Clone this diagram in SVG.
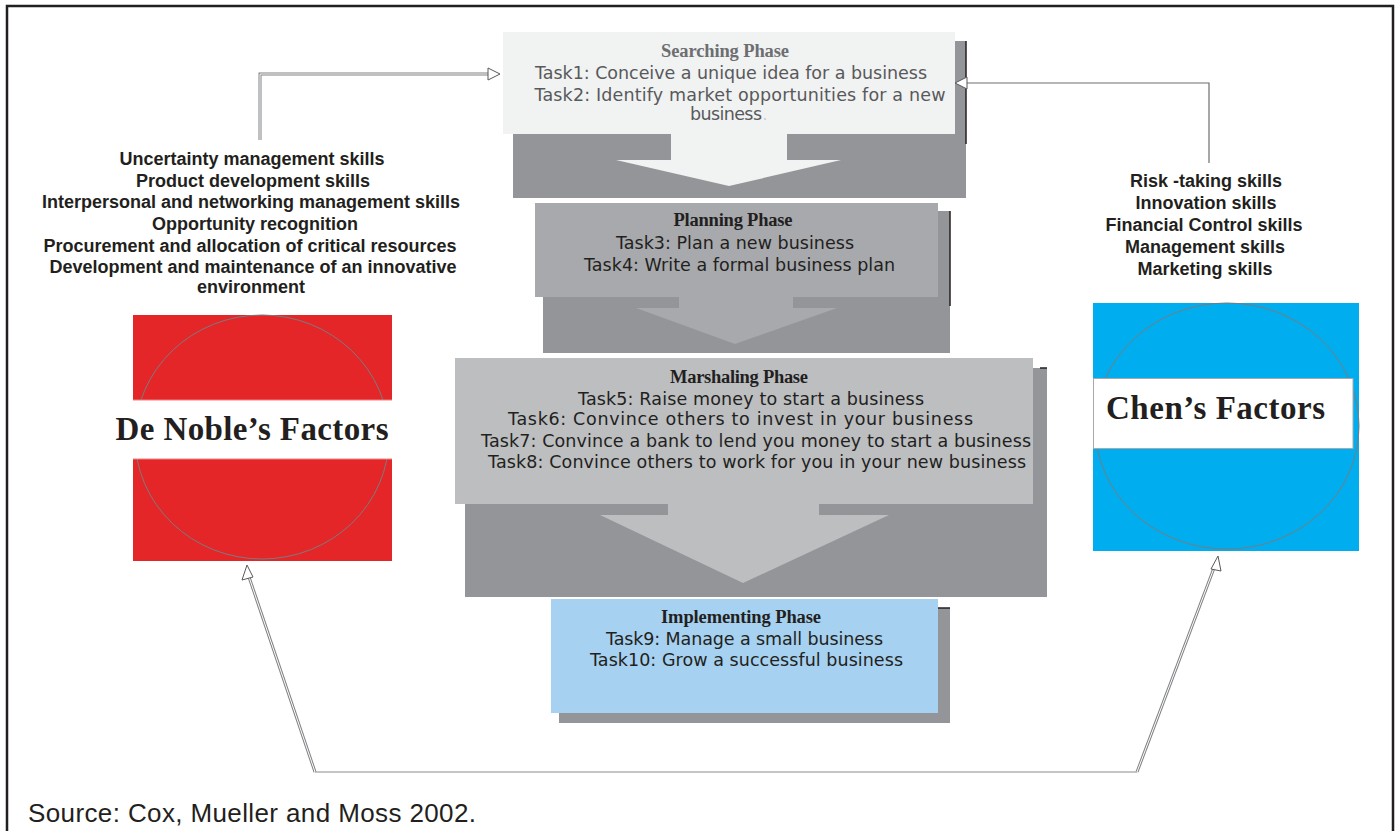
<svg xmlns="http://www.w3.org/2000/svg" width="1400" height="831" viewBox="0 0 1400 831">
<defs>
<style>
.title{font-family:"Liberation Serif","Times New Roman",serif;font-weight:bold;font-size:18.5px;text-anchor:middle;fill:#231f20}
.task{font-family:"DejaVu Sans","Open Sans",sans-serif;font-size:17.5px;text-anchor:middle;fill:#231f20}
.skill{font-family:"Liberation Sans",Arial,sans-serif;font-weight:bold;font-size:18px;text-anchor:middle;fill:#231f20}
.factor{font-family:"Liberation Serif","Times New Roman",serif;font-weight:bold;font-size:33px;fill:#231f20}
.shadow{fill:#939598}
.ring{fill:none;stroke:#7a7b7e;stroke-width:1}
.outer{fill:none;stroke:#808285;stroke-width:3}
.inner{fill:none;stroke:#ffffff;stroke-width:1}
.thin{fill:none;stroke:#6d6e71;stroke-width:1.2}
.head{fill:#ffffff;stroke:#58595b;stroke-width:1}
</style>
</defs>
<rect width="1400" height="831" fill="#ffffff"/>
<path d="M7,831 V6 H1393 V831" fill="none" stroke="#231f20" stroke-width="2.5"/>

<g id="searching">
  <rect class="shadow" x="513" y="41" width="453" height="157"/>
  <line x1="966" y1="41" x2="966" y2="144" stroke="#231f20" stroke-width="1.5"/>
  <rect x="503" y="32" width="452" height="102" fill="#f1f2f2"/>
  <polygon points="671,134 787,134 787,160 841,160 729,186 616,160 671,160" fill="#f1f2f2"/>
  <text class="title" x="725" y="57" textLength="128" style="fill:#6d6e71">Searching Phase</text>
  <text class="task" x="731" y="79" textLength="392" style="fill:#58595b">Task1: Conceive a unique idea for a business</text>
  <text class="task" x="740" y="101" textLength="411" style="fill:#58595b">Task2: Identify market opportunities for a new</text>
  <text class="task" x="726" y="120" textLength="72" style="fill:#58595b">business</text>
  <circle cx="765" cy="119" r="1" fill="#c8c9cb"/>
</g>

<g id="planning">
  <rect class="shadow" x="543" y="211" width="407" height="142"/>
  <line x1="950" y1="211" x2="950" y2="306" stroke="#231f20" stroke-width="1.5"/>
  <rect x="535" y="203" width="403" height="94" fill="#a7a9ac"/>
  <polygon points="679,297 793,297 793,308 837,308 735,344 636,308 679,308" fill="#a7a9ac"/>
  <text class="title" x="733" y="226" textLength="119">Planning Phase</text>
  <text class="task" x="735" y="249" textLength="238">Task3: Plan a new business</text>
  <text class="task" x="739.5" y="271" textLength="311">Task4: Write a formal business plan</text>
</g>

<g id="marshaling">
  <rect class="shadow" x="465" y="368" width="582" height="229"/>
  <line x1="1040" y1="368" x2="1047" y2="368" stroke="#231f20" stroke-width="1.5"/>
  <rect x="455" y="358" width="578" height="146" fill="#bcbec0"/>
  <polygon points="668,504 819,504 819,515 889,515 743,583 600,515 668,515" fill="#bcbec0"/>
  <text class="title" x="739" y="383" textLength="138">Marshaling Phase</text>
  <text class="task" x="751" y="405" textLength="346">Task5: Raise money to start a business</text>
  <text class="task" x="740.5" y="425" textLength="465">Task6: Convince others to invest in your business</text>
  <text class="task" x="756" y="447" textLength="550">Task7: Convince a bank to lend you money to start a business</text>
  <text class="task" x="757" y="468" textLength="538">Task8: Convince others to work for you in your new business</text>
</g>

<g id="implementing">
  <rect class="shadow" x="559" y="608" width="391" height="115"/>
  <line x1="938" y1="608" x2="950" y2="608" stroke="#231f20" stroke-width="1.5"/>
  <rect x="551" y="599" width="387" height="114" fill="#a6d1f0"/>
  <text class="title" x="741" y="623" textLength="160">Implementing Phase</text>
  <text class="task" x="744.5" y="645" textLength="277">Task9: Manage a small business</text>
  <text class="task" x="746.5" y="666" textLength="313">Task10: Grow a successful business</text>
</g>

<g id="denoble-skills">
  <text class="skill" x="252" y="165">Uncertainty management skills</text>
  <text class="skill" x="253" y="187">Product development skills</text>
  <text class="skill" x="251" y="208">Interpersonal and networking management skills</text>
  <text class="skill" x="255" y="230">Opportunity recognition</text>
  <text class="skill" x="250" y="252">Procurement and allocation of critical resources</text>
  <text class="skill" x="253" y="273">Development and maintenance of an innovative</text>
  <text class="skill" x="251" y="293">environment</text>
</g>

<g id="denoble">
  <rect x="133" y="315" width="259" height="246" fill="#e52629"/>
  <ellipse class="ring" cx="262" cy="437" rx="127" ry="122"/>
  <rect x="133" y="400" width="259" height="59" fill="#ffffff"/>
  <line x1="133" y1="400" x2="392" y2="400" stroke="#f08080" stroke-width="1"/>
  <line x1="133" y1="459" x2="392" y2="459" stroke="#f08080" stroke-width="1"/>
  <text class="factor" x="252" y="440" text-anchor="middle" textLength="273">De Noble’s Factors</text>
</g>

<g id="chen-skills">
  <text class="skill" x="1206" y="187">Risk -taking skills</text>
  <text class="skill" x="1206" y="209">Innovation skills</text>
  <text class="skill" x="1204" y="231">Financial Control skills</text>
  <text class="skill" x="1205" y="253">Management skills</text>
  <text class="skill" x="1205" y="275">Marketing skills</text>
</g>

<g id="chen">
  <rect x="1093" y="303" width="266" height="248" fill="#00aeef"/>
  <ellipse class="ring" cx="1227" cy="426" rx="132" ry="123"/>
  <rect x="1093.5" y="378.5" width="259.5" height="70" fill="#ffffff" stroke="#a7a9ac" stroke-width="1"/>
  <text class="factor" x="1106" y="419" textLength="219">Chen’s Factors</text>
</g>

<g id="connectors">
  <path class="outer" d="M260,140 V74 H489"/>
  <path class="inner" d="M260,140 V74 H489"/>
  <polygon class="head" points="488,68 500,74 488,80"/>
  <path class="thin" d="M1209,163 V83 H967"/>
  <polygon class="head" points="967,77 955,83 967,89"/>
  <path d="M1137,772 H315" fill="none" stroke="#c4c5c7" stroke-width="2"/>
  <path class="outer" d="M315,772 L249,577"/>
  <path class="inner" d="M315,772 L249,577"/>
  <polygon class="head" points="247,565 242,580 253,577"/>
  <path class="outer" d="M1137,772 L1214,568"/>
  <path class="inner" d="M1137,772 L1214,568"/>
  <polygon class="head" points="1218,556 1211,569 1221,571"/>
</g>

<text x="28" y="822" font-family="Liberation Sans, Arial, sans-serif" font-size="26" fill="#231f20" textLength="448">Source: Cox, Mueller and Moss 2002.</text>
</svg>
